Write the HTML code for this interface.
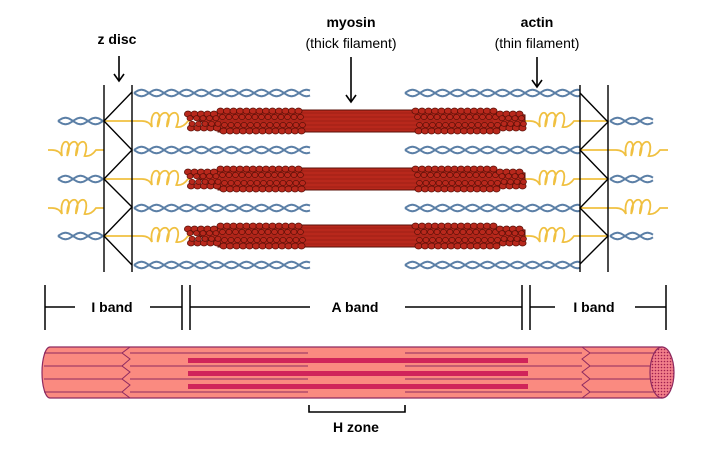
<!DOCTYPE html>
<html><head><meta charset="utf-8"><style>
html,body{margin:0;padding:0;background:#fff;width:720px;height:449px;overflow:hidden}
svg{display:block}
text{font-family:"Liberation Sans",Arial,sans-serif;fill:#000}
</style></head><body>
<svg id="s" width="720" height="449" viewBox="0 0 720 449" xmlns="http://www.w3.org/2000/svg">
<defs>
<pattern id="dots" width="3" height="3" patternUnits="userSpaceOnUse"><rect width="3" height="3" fill="#f27f8a"/><circle cx="1.5" cy="1.5" r="0.8" fill="#a02050"/></pattern>
</defs>
<g id="g"></g>
<text x="117" y="44" font-size="14" font-weight="bold" text-anchor="middle">z disc</text>
<text x="351" y="27" font-size="14" font-weight="bold" text-anchor="middle">myosin</text>
<text x="351" y="48" font-size="14" text-anchor="middle">(thick filament)</text>
<text x="537" y="27" font-size="14" font-weight="bold" text-anchor="middle">actin</text>
<text x="537" y="48" font-size="14" text-anchor="middle">(thin filament)</text>
<g stroke="#000" stroke-width="1.6" fill="none">
<line x1="119" y1="56" x2="119" y2="80"/><path d="M114 74 L119 81 L124 74"/>
<line x1="351" y1="57" x2="351" y2="101"/><path d="M346 95 L351 102 L356 95"/>
<line x1="537" y1="57" x2="537" y2="86"/><path d="M532 80 L537 87 L542 80"/>
</g>
<g stroke="#000" stroke-width="1.5">
<line x1="45" y1="285" x2="45" y2="330"/><line x1="45" y1="307" x2="75" y2="307"/>
<line x1="150" y1="307" x2="182" y2="307"/>
<line x1="182" y1="285" x2="182" y2="330"/><line x1="190" y1="285" x2="190" y2="330"/>
<line x1="190" y1="307" x2="310" y2="307"/><line x1="405" y1="307" x2="522" y2="307"/>
<line x1="522" y1="285" x2="522" y2="330"/><line x1="530" y1="285" x2="530" y2="330"/>
<line x1="530" y1="307" x2="555" y2="307"/><line x1="635" y1="307" x2="666" y2="307"/>
<line x1="666" y1="285" x2="666" y2="330"/>
</g>
<text x="112" y="312" font-size="14" font-weight="bold" text-anchor="middle">I band</text>
<text x="355" y="312" font-size="14" font-weight="bold" text-anchor="middle">A band</text>
<text x="594" y="312" font-size="14" font-weight="bold" text-anchor="middle">I band</text>
<path d="M50 347 L662 347 L662 398 L50 398 A8 25.5 0 0 1 50 347 Z" fill="#fa8a80" stroke="#8e2a60" stroke-width="1.2"/>
<g id="cyl"></g>
<ellipse cx="662" cy="372.5" rx="12" ry="25.5" fill="url(#dots)" stroke="#8e2a60" stroke-width="1.2"/>
<path d="M309 405 L309 412 L405 412 L405 405" stroke="#000" stroke-width="1.6" fill="none"/>
<text x="356" y="432" font-size="14" font-weight="bold" text-anchor="middle">H zone</text>
</svg>
<script>
var g=document.getElementById('g'),out='';
function actin(x1,x2,y){var a='',b='',per=30,amp=3.2;
 for(var x=x1;x<=x2;x+=1){var s=amp*Math.sin((x-x1)/per*2*Math.PI);a+=(x==x1?'M':'L')+x+' '+(y+s).toFixed(1);b+=(x==x1?'M':'L')+x+' '+(y-s).toFixed(1);}
 out+='<path d="'+a+'" stroke="#5b7fa6" stroke-width="2" fill="none"/><path d="'+b+'" stroke="#5b7fa6" stroke-width="2" fill="none"/>';}
function coil(x1,xc1,xc2,x2,y){
 var d='M'+x1+' '+y+' ';var n=3,w=(xc2-xc1)/n;
 d+='L'+(xc1-10)+' '+y+' Q'+(xc1-3)+' '+y+' '+xc1+' '+(y+6);
 for(var i=0;i<n;i++){var cx=xc1+i*w+w/2;d+=' C'+(cx-w*0.9)+' '+(y-13)+' '+(cx+w*0.9)+' '+(y-13)+' '+(cx+w*0.1)+' '+(y+6);}
 d+=' Q'+(xc2+3)+' '+(y+7)+' '+(xc2+8)+' '+y+' L'+x2+' '+y;
 out+='<path d="'+d+'" stroke="#f0c040" stroke-width="1.8" fill="none"/>';}
function myosin(y){
 var c='#b8281c',o='#5a1008',h='';
 // heads
 for(var x=188;x<=524;x+=6.5){if(x>302&&x<412)continue;var e=(x<216||x>497)?7:10;
  h+='<ellipse cx="'+x+'" cy="'+(y-e)+'" rx="3.6" ry="3" fill="'+c+'" stroke="'+o+'" stroke-width="0.8"/>';
  h+='<ellipse cx="'+(x+3)+'" cy="'+(y+e)+'" rx="3.6" ry="3" fill="'+c+'" stroke="'+o+'" stroke-width="0.8"/>';
  h+='<ellipse cx="'+(x+2)+'" cy="'+(y-e/2.5)+'" rx="3" ry="2.6" fill="'+c+'" stroke="'+o+'" stroke-width="0.7"/>';
  h+='<ellipse cx="'+(x+4)+'" cy="'+(y+e/2.5)+'" rx="3" ry="2.6" fill="'+c+'" stroke="'+o+'" stroke-width="0.7"/>';}
 out+='<path d="M188 '+(y-6)+' L218 '+(y-9)+' L218 '+(y-11)+' L495 '+(y-11)+' L495 '+(y-9)+' L525 '+(y-6)+' L525 '+(y+6)+' L495 '+(y+9)+' L495 '+(y+11)+' L218 '+(y+11)+' L218 '+(y+9)+' Z" fill="'+c+'" stroke="'+o+'" stroke-width="1"/>';
 for(var k=-8;k<=8;k+=4)out+='<line x1="220" y1="'+(y+k)+'" x2="493" y2="'+(y+k)+'" stroke="#8a1a10" stroke-width="0.6"/>';
 out+=h;}
[93,150,208,265].forEach(function(y){actin(134,310,y);actin(405,580,y);});
[121,179,236].forEach(function(y){actin(58,103,y);actin(610,653,y);});
[150,208].forEach(function(y){coil(48,62,88,104,y);coil(580,626,652,668,y);});
[121,179,236].forEach(function(y){coil(104,152,180,190,y);coil(525,540,566,608,y);});
[121,179,236].forEach(myosin);
out+='<g stroke="#000" stroke-width="1.4" fill="none"><line x1="104" y1="85" x2="104" y2="272"/><line x1="132" y1="85" x2="132" y2="272"/><line x1="580" y1="85" x2="580" y2="272"/><line x1="608" y1="85" x2="608" y2="272"/>';
out+='<polyline points="132,92 104,121 132,150 104,179 132,207 104,236 132,265"/><polyline points="580,93 608,122 580,150 608,179 580,208 608,236 580,264"/></g>';
g.innerHTML=out;
var c='';
c+='<rect x="188" y="358" width="340" height="5" fill="#d0245a"/><rect x="188" y="371" width="340" height="5" fill="#d0245a"/><rect x="188" y="384" width="340" height="5" fill="#d0245a"/>';
[353,366,379,392].forEach(function(y){c+='<line x1="44" y1="'+y+'" x2="122" y2="'+y+'" stroke="#8e2a60" stroke-width="1"/><line x1="130" y1="'+y+'" x2="308" y2="'+y+'" stroke="#8e2a60" stroke-width="1"/><line x1="405" y1="'+y+'" x2="582" y2="'+y+'" stroke="#8e2a60" stroke-width="1"/><line x1="590" y1="'+y+'" x2="662" y2="'+y+'" stroke="#8e2a60" stroke-width="1"/>';});
var zp='M130 347',zq='M582 347';[353,366,379,392].forEach(function(y){zp+=' L122 '+(y)+' L130 '+(y+6);zq+=' L590 '+y+' L582 '+(y+6);});
c+='<path d="'+zp+' L130 398" stroke="#8e2a60" fill="none"/><path d="'+zq+' L582 398" stroke="#8e2a60" fill="none"/>';
document.getElementById('cyl').innerHTML=c;
</script>
</body></html>
